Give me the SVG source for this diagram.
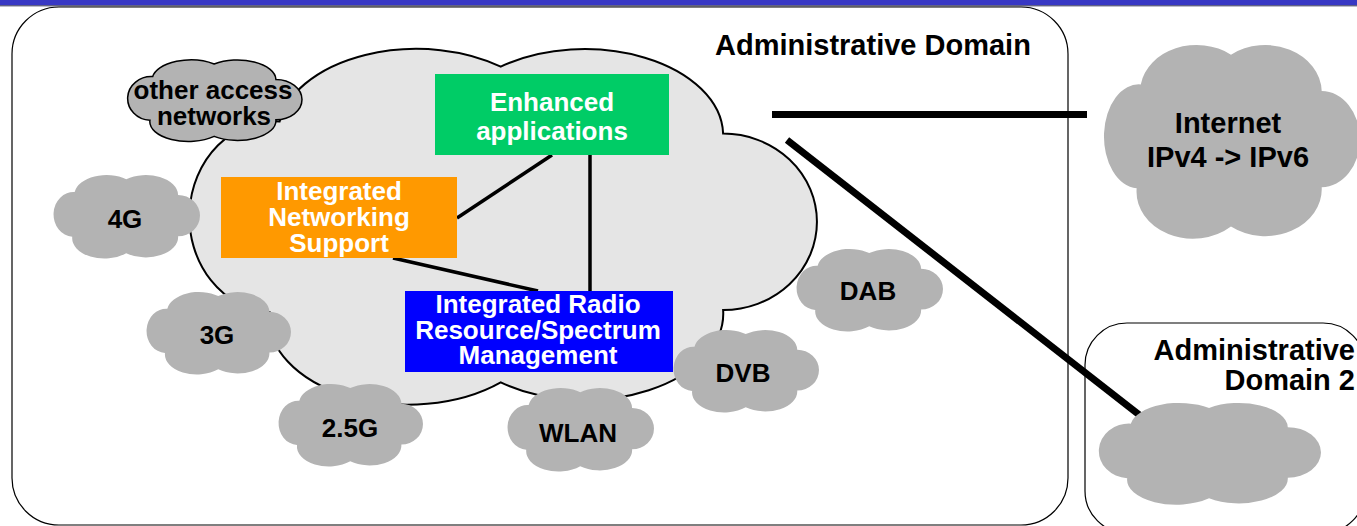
<svg xmlns="http://www.w3.org/2000/svg" width="1357" height="526" viewBox="0 0 1357 526">
<defs>
<path id="cloud" vector-effect="non-scaling-stroke" d="M14.7,21.8 A22,24 0 0 1 49.8,6.6 A22,24 0 0 1 85.1,25.2 A14.9,24.5 0 0 1 85.1,74.2 A22,24 0 0 1 49.8,94.3 A22,24 0 0 1 13.1,74.8 A13.5,26.5 0 0 1 14.7,21.8 Z"/>
</defs>
<style>
.t{font-family:"Liberation Sans",Arial,sans-serif;font-weight:bold;}
.big{font-size:29px;fill:#000;}
.lbl{font-size:26px;fill:#000;text-anchor:middle;}
.wl{font-size:26px;fill:#fff;text-anchor:middle;}
.gc{fill:#b3b3b3;stroke:none;}
.dom{fill:#fff;stroke:#000;stroke-width:1.2;}
.thin{stroke:#000;stroke-width:3.5;fill:none;}
.thick{stroke:#000;stroke-width:7;fill:none;}
</style>
<rect x="0" y="0" width="1357" height="5" fill="#3838c4"/>
<line x1="0" y1="5.8" x2="1357" y2="5.8" stroke="#202050" stroke-width="1"/>

<g id="admin-domain">
<rect class="dom" x="12" y="7" width="1056" height="518" rx="47" ry="47"/>
<text class="t big" x="715" y="55">Administrative Domain</text>
</g>

<g id="admin-domain-2">
<rect class="dom" x="1085" y="323" width="280" height="210" rx="42" ry="42"/>
<text class="t big" x="1355" y="360" text-anchor="end">Administrative</text>
<text class="t big" x="1355" y="390" text-anchor="end">Domain 2</text>
</g>

<g id="core-cloud">
<use href="#cloud" transform="translate(187,42.9) scale(6.3,3.6)" fill="#e5e5e5" stroke="#000" stroke-width="2"/>
</g>

<g id="connectors">
<line class="thin" x1="552" y1="155" x2="457" y2="218"/>
<line class="thin" x1="590" y1="155" x2="590" y2="291" stroke-width="4.5"/>
<line class="thin" x1="393" y1="258" x2="538" y2="291"/>
<line class="thick" x1="772" y1="114.5" x2="1087" y2="114.5"/>
<line class="thick" x1="787" y1="140" x2="1142" y2="417"/>
</g>

<g id="other-access">
<use href="#cloud" transform="translate(127,58.6) scale(1.75,0.825)" fill="#b3b3b3" stroke="#000" stroke-width="1.5"/>
<text class="t lbl" x="213" y="99">other access</text>
<text class="t lbl" x="214" y="125">networks</text>
</g>

<g id="n4g">
<use class="gc" href="#cloud" transform="translate(53,173.6) scale(1.47,0.845)"/>
<text class="t lbl" x="125" y="228">4G</text>
</g>

<g id="n3g">
<use class="gc" href="#cloud" transform="translate(146,290.6) scale(1.45,0.835)"/>
<text class="t lbl" x="217" y="344">3G</text>
</g>

<g id="n25g">
<use class="gc" href="#cloud" transform="translate(278,382.6) scale(1.45,0.835)"/>
<text class="t lbl" x="350" y="437">2.5G</text>
</g>

<g id="wlan">
<use class="gc" href="#cloud" transform="translate(507,386.6) scale(1.47,0.845)"/>
<text class="t lbl" x="578" y="442">WLAN</text>
</g>

<g id="dvb">
<use class="gc" href="#cloud" transform="translate(673,328.6) scale(1.46,0.835)"/>
<text class="t lbl" x="743" y="382">DVB</text>
</g>

<g id="dab">
<use class="gc" href="#cloud" transform="translate(796,247.6) scale(1.47,0.835)"/>
<text class="t lbl" x="868" y="300">DAB</text>
</g>

<g id="internet">
<use class="gc" href="#cloud" transform="translate(1103,41.7) scale(2.57,1.96)"/>
<text class="t big" x="1228" y="133" text-anchor="middle">Internet</text>
<text class="t big" x="1228" y="167" text-anchor="middle">IPv4 -&gt; IPv6</text>
</g>

<g id="domain2-cloud">
<use class="gc" href="#cloud" transform="translate(1098,401.2) scale(2.23,1.03)"/>
</g>

<g id="enhanced-applications">
<rect x="435" y="74" width="234" height="81" fill="#00cc66"/>
<text class="t wl" x="552" y="111">Enhanced</text>
<text class="t wl" x="552" y="140">applications</text>
</g>

<g id="integrated-networking-support">
<rect x="221" y="177" width="236" height="81" fill="#ff9900"/>
<text class="t wl" x="339" y="200">Integrated</text>
<text class="t wl" x="339" y="226">Networking</text>
<text class="t wl" x="339" y="252">Support</text>
</g>

<g id="integrated-radio">
<rect x="405" y="291" width="268" height="81" fill="#0000ff"/>
<text class="t wl" x="538" y="313">Integrated Radio</text>
<text class="t wl" x="538" y="339">Resource/Spectrum</text>
<text class="t wl" x="538" y="364">Management</text>
</g>
</svg>
